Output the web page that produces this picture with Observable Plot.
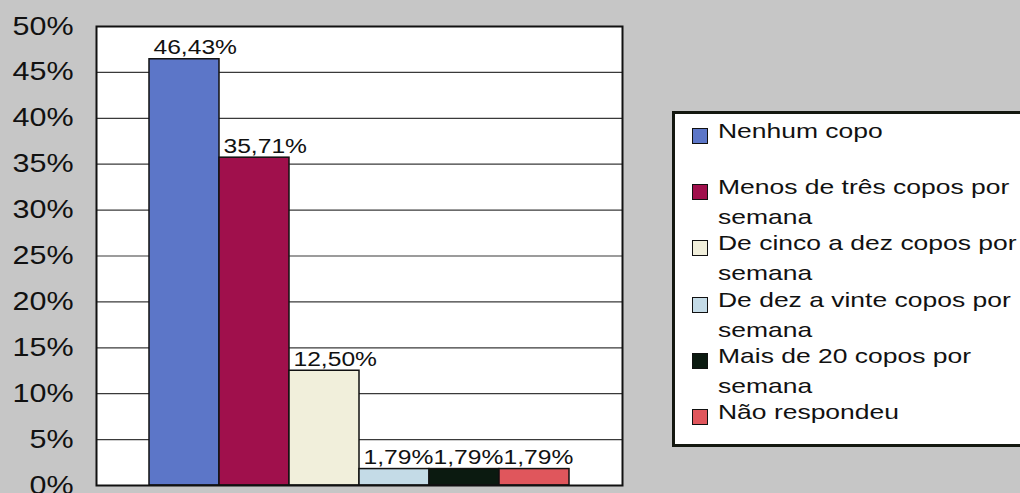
<!DOCTYPE html>
<html><head><meta charset="utf-8">
<script src="https://cdn.jsdelivr.net/npm/d3@7"></script>
<script src="https://cdn.jsdelivr.net/npm/@observablehq/plot@0.6"></script>
<style>
html,body{margin:0;padding:0;width:1020px;height:493px;overflow:hidden;background:#c6c6c6;font-family:"Liberation Sans",Arial,sans-serif;}
#wrap{position:relative;width:1020px;height:493px;overflow:hidden;}
#wrap svg{position:absolute;left:0;top:0;}
#legend{position:absolute;left:672px;top:111px;width:380px;height:330px;border:3px solid #141810;background:#fff;}
.item{position:absolute;left:0;width:370px;height:60px;}
.sw{position:absolute;left:17px;top:12px;width:14px;height:14px;border:1.5px solid #111;}
.lab{position:absolute;left:43px;top:0;width:245px;font-size:21px;line-height:30px;color:#111;transform:scaleX(1.26);transform-origin:0 0;}
</style>
</head><body>
<div id="wrap"><div id="legend"></div></div>
<script>
const categories = ["Nenhum copo","Menos de três copos por semana","De cinco a dez copos por semana","De dez a vinte copos por semana","Mais de 20 copos por semana","Não respondeu"];
const values = [46.43, 35.71, 12.50, 1.79, 1.79, 1.79];
const valueLabels = ["46,43%","35,71%","12,50%","1,79%","1,79%","1,79%"];
const colors = ["#5c76c8","#a0104c","#f1efdb","#c4dbe7","#0b1a10","#e0565c"];
const yTicks = [0,5,10,15,20,25,30,35,40,45,50];

const data = categories.map((c,i)=>({cat:c, value:values[i], label:valueLabels[i]}));

const chart = Plot.plot({
  width:1020, height:493,
  marginLeft:96, marginRight:398, marginTop:26, marginBottom:8,
  style:{background:"transparent", fontFamily:"'Liberation Sans', Arial, sans-serif", overflow:"visible"},
  x:{domain:categories, paddingInner:0, paddingOuter:0.735, axis:null},
  y:{domain:[0,50]},
  color:{domain:categories, range:colors},
  marks:[
    Plot.frame({fill:"white", stroke:null}),
    Plot.ruleY(yTicks, {stroke:"#3a3a3a", strokeWidth:1.2}),
    Plot.axisY(yTicks, {tickSize:0, tickPadding:23, fontSize:25, fill:"#111", tickFormat:d=>d+"%", label:null}),
    Plot.barY(data, {x:"cat", y:"value", fill:"cat", stroke:"#111", strokeWidth:1.5}),
    Plot.text(data, {x:"cat", y:"value", text:"label", textAnchor:"start", lineAnchor:"bottom", dx:-31, dy:-5, fontSize:20.5, fill:"#111"}),
    Plot.frame({stroke:"#111", strokeWidth:2})
  ]
});
document.getElementById("wrap").prepend(chart);
chart.querySelectorAll("text").forEach(t=>{
  const L = t.getComputedTextLength();
  const isTick = t.getAttribute("text-anchor") === "end" || (t.parentNode && t.parentNode.getAttribute("text-anchor") === "end");
  const k = isTick ? 1.22 : 1.2;
  if (L>0){ t.setAttribute("textLength", L*k); t.setAttribute("lengthAdjust","spacingAndGlyphs"); }
});

const legend = document.getElementById("legend");
categories.forEach((c,i)=>{
  const item = document.createElement("div");
  item.className = "item";
  item.style.top = (2 + i*56.2) + "px";
  const sw = document.createElement("div");
  sw.className = "sw";
  sw.style.background = colors[i];
  const lab = document.createElement("div");
  lab.className = "lab";
  lab.textContent = c;
  item.append(sw, lab);
  legend.append(item);
});
</script>
</body></html>
